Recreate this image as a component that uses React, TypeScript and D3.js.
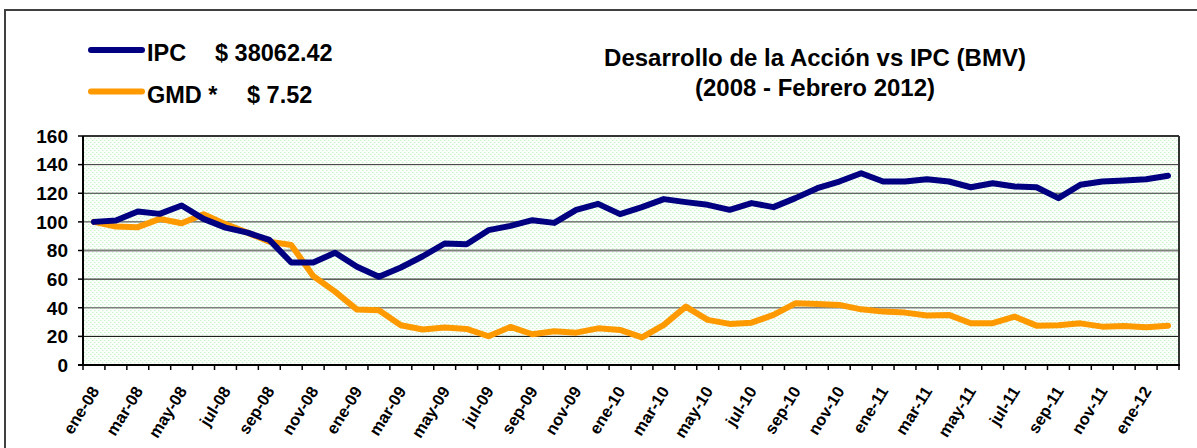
import * as d3 from "d3";

const categories = [
  "ene-08", "feb-08", "mar-08", "abr-08", "may-08", "jun-08", "jul-08", "ago-08", "sep-08", "oct-08", "nov-08", "dic-08",
  "ene-09", "feb-09", "mar-09", "abr-09", "may-09", "jun-09", "jul-09", "ago-09", "sep-09", "oct-09", "nov-09", "dic-09",
  "ene-10", "feb-10", "mar-10", "abr-10", "may-10", "jun-10", "jul-10", "ago-10", "sep-10", "oct-10", "nov-10", "dic-10",
  "ene-11", "feb-11", "mar-11", "abr-11", "may-11", "jun-11", "jul-11", "ago-11", "sep-11", "oct-11", "nov-11", "dic-11",
  "ene-12", "feb-12",
];

// shown on the axis (every other month)
const tickLabels = categories.filter((_, i) => i % 2 === 0);

const ipc = [
  100, 101, 107.2, 105.6, 111.4, 102.1, 96, 92.5, 87.4, 71.6,
  71.6, 78.4, 68.6, 61.6, 68.1, 76, 84.9, 84.4, 94.2, 97.2,
  101.2, 99.3, 108.4, 112.6, 105.4, 110.3, 115.9, 113.8, 111.9, 108.4,
  113.1, 110.3, 116.6, 123.5, 128.2, 134, 128.2, 128.2, 129.8, 128.2,
  124.2, 127, 124.7, 124.2, 116.6, 125.9, 128.2, 128.9, 129.8, 132.2,
];

const gmd = [
  100, 96.7, 96.3, 102.1, 99, 105.4, 98.4, 92.5, 86.2, 83.9,
  62.2, 51.3, 38.7, 38.3, 27.8, 24.8, 26.2, 25.2, 20.1, 26.6,
  21.5, 23.6, 22.6, 25.6, 24.5, 19.3, 28, 40.8, 31.5, 28.7,
  29.6, 35, 43.1, 42.7, 42, 38.9, 37.3, 36.6, 34.6, 35,
  29.2, 29.2, 33.8, 27.5, 27.7, 29.1, 26.8, 27.3, 26.3, 27.5,
];

const yTicks = [0, 20, 40, 60, 80, 100, 120, 140, 160];

const legend = [
  { name: "IPC", price: "$ 38062.42", color: "#000080", priceX: 215 },
  { name: "GMD *", price: "$ 7.52", color: "#FF9900", priceX: 247 },
];

const W = 1197;
const H = 448;
const LEFT = 83;
const RIGHT = 1179;
const TOP = 136;
const BOTTOM = 365;
const FONT = "'Liberation Sans', Arial, sans-serif";

// gridline look (some come out grey and thicker)
const gridStyle: Record<number, { stroke: string; w: number }> = {
  20: { stroke: "#000", w: 1 },
  40: { stroke: "#808080", w: 1.5 },
  60: { stroke: "#000", w: 1 },
  80: { stroke: "#808080", w: 2 },
  100: { stroke: "#333", w: 1 },
  120: { stroke: "#333", w: 1 },
  140: { stroke: "#333", w: 1 },
};

const App = () => {
  const x = d3.scaleBand<string>().domain(categories).range([LEFT, RIGHT]).padding(0);
  const y = d3.scaleLinear().domain([0, 160]).range([BOTTOM, TOP]);
  const bw = x.bandwidth();
  const cx = (c: string) => (x(c) ?? 0) + bw / 2;

  const line = d3
    .line<number>()
    .x((_, i) => cx(categories[i]))
    .y((d) => y(d));

  const tickXs = categories.map((c) => x(c) ?? 0).concat([RIGHT]);

  return (
    <svg
      width={W}
      height={H}
      style={{ position: "absolute", left: 0, top: 0, background: "#fff" }}
      fontFamily={FONT}
      fontWeight="bold"
    >
      <defs>
        <pattern id="dots" width={4} height={4} patternUnits="userSpaceOnUse">
          <rect width={4} height={4} fill="#fbfffb" />
          <rect x={0} y={0} width={1} height={1} fill="#c8f5c8" />
          <rect x={2} y={2} width={1} height={1} fill="#c8f5c8" />
          <rect x={1} y={0} width={1} height={1} fill="#e6fbe6" />
          <rect x={3} y={2} width={1} height={1} fill="#e6fbe6" />
        </pattern>
      </defs>

      {/* outer chart frame */}
      <rect x={5} y={10} width={1300} height={600} fill="none" stroke="#404040" strokeWidth={2} />

      {/* legend */}
      {legend.map((l, i) => {
        const ly = 50 + i * 41.5;
        return (
          <g key={l.name}>
            <line x1={91} x2={142} y1={ly} y2={ly} stroke={l.color} strokeWidth={6} strokeLinecap="round" />
            <text x={147} y={ly + 11} fontSize={23.5} fill="#000">
              {l.name}
            </text>
            <text x={l.priceX} y={ly + 11} fontSize={23.5} fill="#000">
              {l.price}
            </text>
          </g>
        );
      })}

      {/* title */}
      <text x={815} y={66} fontSize={24} textAnchor="middle" fill="#000">
        Desarrollo de la Acción vs IPC (BMV)
      </text>
      <text x={815} y={96} fontSize={24} textAnchor="middle" fill="#000">
        (2008 - Febrero 2012)
      </text>

      {/* plot area */}
      <rect x={LEFT} y={TOP} width={RIGHT - LEFT} height={BOTTOM - TOP} fill="url(#dots)" />
      {yTicks
        .filter((t) => t > 0 && t < 160)
        .map((t) => (
          <line
            key={t}
            x1={LEFT}
            x2={RIGHT}
            y1={y(t)}
            y2={y(t)}
            stroke={gridStyle[t].stroke}
            strokeWidth={gridStyle[t].w}
          />
        ))}
      <line x1={LEFT} x2={RIGHT} y1={TOP} y2={TOP} stroke="#333" strokeWidth={2} />
      <line x1={RIGHT} x2={RIGHT} y1={TOP} y2={BOTTOM} stroke="#333" strokeWidth={2} />

      {/* y axis */}
      <line x1={LEFT} x2={LEFT} y1={TOP} y2={BOTTOM + 1} stroke="#000" strokeWidth={2} />
      {yTicks.map((t) => (
        <g key={t}>
          <line x1={LEFT - 5} x2={LEFT} y1={y(t)} y2={y(t)} stroke="#000" strokeWidth={1.5} />
          <text x={68} y={y(t)} dy="0.36em" fontSize={19} textAnchor="end" fill="#000">
            {t}
          </text>
        </g>
      ))}

      {/* x axis */}
      <line x1={LEFT - 5} x2={RIGHT + 1} y1={BOTTOM} y2={BOTTOM} stroke="#000" strokeWidth={2} />
      {tickXs.map((tx, i) => (
        <line key={i} x1={tx} x2={tx} y1={BOTTOM} y2={BOTTOM + 5} stroke="#000" strokeWidth={1.5} />
      ))}
      {tickLabels.map((c) => (
        <text
          key={c}
          transform={`translate(${cx(c) + 1},${388}) rotate(-58)`}
          dy="0.35em"
          fontSize={16.5}
          textAnchor="end"
          fill="#000"
        >
          {c}
        </text>
      ))}

      {/* series */}
      <path d={line(gmd) ?? ""} fill="none" stroke="#FF9900" strokeWidth={6} strokeLinejoin="round" strokeLinecap="round" />
      <path d={line(ipc) ?? ""} fill="none" stroke="#000080" strokeWidth={6} strokeLinejoin="round" strokeLinecap="round" />
    </svg>
  );
};

export default App;
